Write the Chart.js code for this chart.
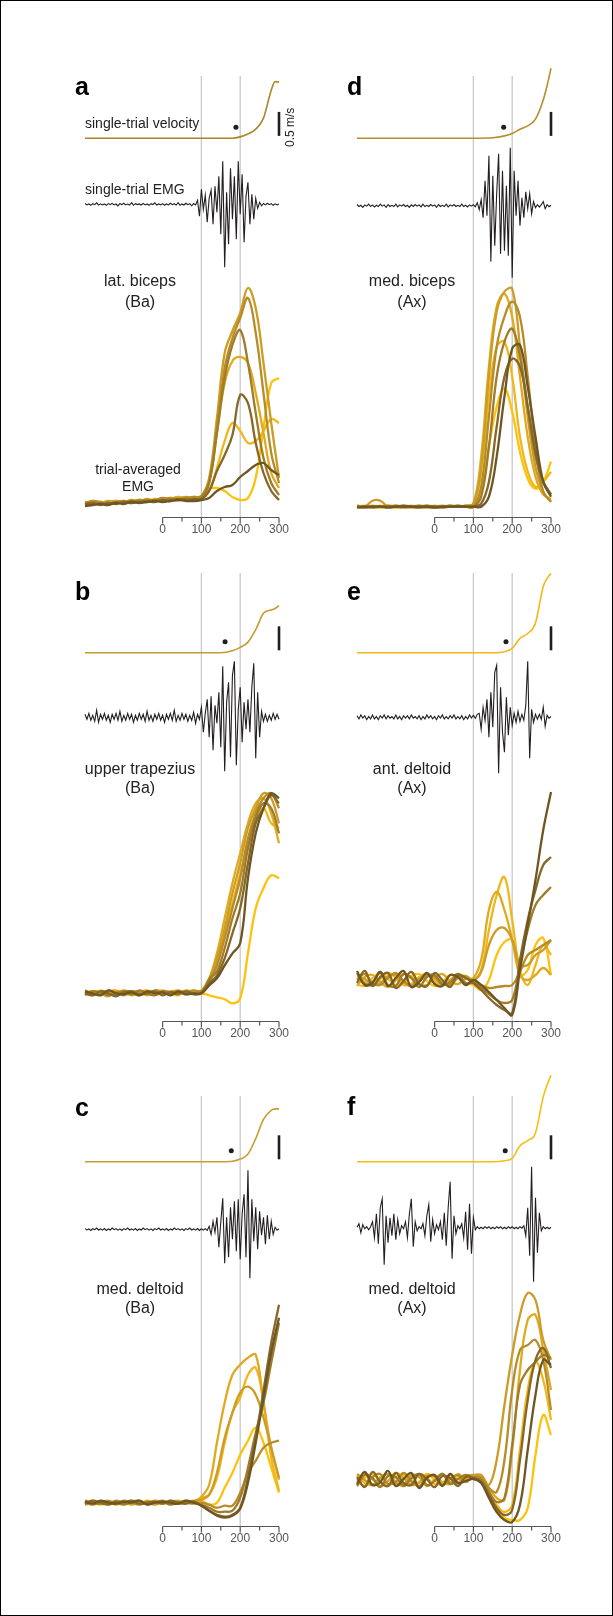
<!DOCTYPE html>
<html>
<head>
<meta charset="utf-8">
<script src="https://cdn.jsdelivr.net/npm/chart.js@4.4.0/dist/chart.umd.min.js"></script>
<style>
  html, body { margin: 0; padding: 0; background: #fff; }
  #fig { position: relative; width: 613px; height: 1616px; overflow: hidden;
         font-family: "Liberation Sans", Arial, Helvetica, sans-serif; color: #222; }
  #frame { position: absolute; left: 0; top: 0; width: 613px; height: 1616px;
           box-sizing: border-box; border: 1px solid #000; }
  #fig canvas { position: absolute; }
  .lbl { position: absolute; white-space: nowrap; line-height: 1; }
</style>
</head>
<body>
<div id="fig"><div id="frame"></div></div>
<script>
// time grids (ms from go cue)
const velTime = [-200, -100, 0, 100, 150, 180, 200, 220, 240, 260, 280, 290, 300];
const avgTime = [-200, -180, -160, -140, -120, -100, -80, -60, -40, -20, 0, 20, 40, 60, 80,
                 100, 120, 140, 160, 180, 200, 220, 240, 260, 280, 300];
const emgTime = [-200, -195, -190, -185, -180, -175, -170, -165, -160, -155,
                 -150, -145, -140, -135, -130, -125, -120, -115, -110, -105,
                 -100, -95, -90, -85, -80, -75, -70, -65, -60, -55,
                 -50, -45, -40, -35, -30, -25, -20, -15, -10, -5,
                 0, 5, 10, 15, 20, 25, 30, 35, 40, 45,
                 50, 55, 60, 65, 70, 75, 80, 85, 90, 95,
                 100, 105, 110, 115, 120, 125, 130, 135, 140, 145,
                 150, 155, 160, 165, 170, 175, 180, 185, 190, 195,
                 200, 205, 210, 215, 220, 225, 230, 235, 240, 245,
                 250, 255, 260, 265, 270, 275, 280, 285, 290, 295,
                 300];
const axisTicks = [0, 50, 100, 150, 200, 250, 300];
const axisLabels = [0, 100, 200, 300];
const markTimes = [100, 200];

// single-trial hand velocity (m/s)
const velA = [0, 0, 0, 0, 0, 0, 0.03, 0.09, 0.19, 0.42, 1.0, 1.18, 1.17];
const velB = [0, 0, 0, 0, 0, 0.04, 0.11, 0.22, 0.48, 0.82, 0.89, 0.92, 0.98];
const velC = [0, 0, 0, 0, 0, 0.01, 0.055, 0.16, 0.48, 0.88, 1.07, 1.1, 1.1];
const velD = [0, 0, 0, 0, 0.01, 0.05, 0.1, 0.19, 0.26, 0.4, 0.8, 1.1, 1.46];
const velE = [0, 0, 0, 0, 0, 0.02, 0.09, 0.3, 0.4, 0.62, 1.38, 1.55, 1.65];
const velF = [0, 0, 0, 0, 0, 0.02, 0.07, 0.33, 0.44, 0.6, 1.35, 1.6, 1.8];
const dotTimes = [189, 161, 177, 178, 184, 182];   // a b c d e f
const dotSpeed = 0.23;
const scaleBar = [0.05, 0.55];                      // 0.5 m/s

// single-trial EMG (arbitrary units)
const emgA = [0.8,-0.6,0.4,-1,0.6,-0.4,1.5,-0.8,0.5,-0.6,
  0.4,-1,0.7,-0.3,0.9,-0.6,0.3,-1.6,0.8,-0.4,
  1,-0.6,0.3,-0.7,1.6,-1,0.6,-0.3,0.4,-0.7,
  0.9,-0.6,0.3,-1,0.6,-0.3,1.5,-0.7,0.4,-0.6,
  0.7,-1,0.4,-0.6,1,-0.4,0.6,-0.8,1.6,-1,
  0.4,-0.7,1,-0.4,0.6,-1.5,0.7,-0.6,4,-12,
  15,-5,9,-18,6,14,-20,18,-8,28,
  -30,43,-63,12,-40,36,-15,28,-35,43,
  -10,30,-38,8,22,-20,10,-15,6,-4,
  2,-1.5,0.8,-0.6,1,-0.4,0.7,-1,0.5,-0.6,
  0.4];
const emgB = [3,-2,4,-3,2,-4,7,-5,3,-2,
  4,-3,2,-5,3,-2,4,-3,6,-4,
  2,-3,4,-2,3,-5,2,-3,4,-2,
  3,-4,6,-3,2,-4,3,-2,4,-3,
  2,-5,3,-2,4,-3,7,-4,2,-3,
  4,-2,3,-4,2,-3,5,-6,3,-2,
  10,-15,4,18,-20,21,-33,12,-6,25,
  -30,51,-54,15,35,-40,42,56,-48,8,
  30,-25,15,-12,18,-15,30,54,-41,25,
  -20,6,-4,3,-4,2,-3,4,-2,3,
  -2];
const emgC = [0.7,-0.6,0.4,-1.2,0.6,-0.4,1.2,-0.7,0.4,-0.8,
  0.7,-1.2,0.4,-0.7,1.2,-0.4,0.7,-0.8,0.4,-1.2,
  0.7,-0.4,1.2,-0.7,0.4,-0.8,0.7,-1.2,0.4,-0.7,
  1.2,-0.4,0.7,-0.8,0.4,-1.2,0.7,-0.4,1.2,-0.7,
  0.4,-0.8,0.7,-1.2,0.4,-0.7,1.2,-0.4,0.7,-0.8,
  0.4,-1.2,0.7,-0.4,1.2,-0.7,0.4,-0.8,0.7,-1.2,
  0.5,-0.8,0.6,-1,3,-5,8,-3,12,-18,
  7,31,-34,12,-28,22,-10,28,-22,30,
  -30,15,35,-28,59,-49,30,-12,22,-20,
  18,-6,12,-15,14,-10,8,-5,2,-1,
  0.5];
const emgD = [1.2,-0.8,0.4,-1.6,0.8,-0.4,1.6,-0.8,0.8,-1.2,
  0.4,-0.8,1.6,-0.4,0.8,-1.6,1.2,-0.8,0.4,-0.8,
  1.6,-1.2,0.8,-0.4,1.2,-0.8,0.4,-1.6,0.8,-0.8,
  1.2,-0.4,0.8,-1.2,1.6,-0.8,0.4,-0.8,1.2,-0.4,
  0.8,-1.6,1.2,-0.8,0.4,-0.8,1.6,-1.2,0.8,-0.4,
  1.2,-0.8,0.4,-0.8,1.6,-0.8,0.4,-1.2,0.8,-0.4,
  1,-1,3,-4,6,-12,25,-10,50,-56,
  30,-40,12,52,-48,35,-45,20,-50,58,
  -72,35,-10,25,-20,8,-12,14,-3,12,
  -8,4,-2,1,-1.5,1,4,-3,1,-1,
  0.5];
const emgE = [1.6,-1.6,2.4,-0.8,1.6,-2.4,0.8,-1.6,2.4,-1.6,
  0.8,-2.4,1.6,-0.8,2.4,-1.6,1.6,-0.8,0.8,-1.6,
  2.4,-1.6,0.8,-2.4,1.6,-0.8,1.6,-1.6,2.4,-0.8,
  0.8,-1.6,1.6,-2.4,0.8,-1.6,2.4,-0.8,1.6,-1.6,
  0.8,-2.4,1.6,-0.8,2.4,-1.6,0.8,-1.6,1.6,-0.8,
  2.4,-1.6,0.8,-1.6,1.6,-2.4,0.8,-1.6,2.4,-0.8,
  2,-1,3,4,-12,10,-3,18,-20,25,
  -10,45,52,-56,30,-15,-35,20,-18,10,
  -8,4,-5,6,-4,3,-3,12,56,-41,
  8,-5,3,-2,3,-2,10,-9,2,-1,
  1];
const emgF = [0.5,4,-5,3,-1,1,-2,1,6,-10,
  14,-16,20,29,-37,12,-15,10,-8,14,
  -12,8,-6,2,-1,6,-10,14,29,-19,
  6,-3,1,-1,4,-8,12,23,-14,8,
  -6,3,-2,6,-12,15,-18,20,46,-31,
  12,-6,2,-1,4,-10,16,-22,24,-26,
  10,-2,1,-1,0.5,-1,1,-0.5,1,-1,
  0.5,-1,1,-0.5,1,-1,0.5,-1,1,-0.5,
  1,-1,0.5,-1,1,-0.5,2,-8,20,-28,
  61,-54,30,-25,15,-3,1,-1,0.5,-1,
  0.5];

// trial-averaged EMG, one curve per condition (arbitrary units)
const avgA = [
  [-2,0,-1,1,0,2,1,3,2,4,3,5,4,3,5, 5,14,15,12,6,3,5,25,75,120,125],
  [0,-1,1,0,2,1,0,2,3,2,4,3,5,4,6, 6,12,35,62,80,72,60,62,72,84,80],
  [1,0,-1,1,2,0,1,3,1,3,2,4,6,5,4, 6,20,70,120,142,146,140,110,70,30,15],
  [-1,1,0,2,0,1,3,2,4,2,3,5,4,6,5, 7,25,85,150,172,190,215,195,140,80,25],
  [0,2,1,-1,1,2,1,3,2,3,5,4,3,5,6, 7,22,75,135,165,185,205,170,110,50,20],
  [-2,-1,0,-1,1,0,2,1,2,3,2,4,3,4,3, 5,20,70,125,158,173,140,90,45,20,8],
  [-1,0,-2,0,-1,1,0,1,2,1,3,2,4,3,4, 4,12,32,48,68,108,100,60,30,12,3],
  [-3,-2,-1,-2,0,-1,1,0,1,2,1,2,3,2,2, 3,5,12,16,18,26,32,38,40,33,28]
];
const avgB = [
  [2,-1,3,0,-2,2,-1,1,3,-1,2,0,-2,2,0, 0,-2,-4,-6,-10,-5,40,85,105,118,115],
  [0,2,-2,1,3,-1,0,2,-2,1,3,0,-1,3,1, 2,12,30,60,90,120,150,175,185,170,165],
  [-2,1,0,-3,2,1,-2,0,2,-1,0,2,1,-1,2, 3,15,40,75,110,140,170,190,195,180,150],
  [1,-2,2,1,-1,3,0,-2,1,2,-1,1,3,0,1, 2,14,35,65,100,130,165,185,200,195,170],
  [3,0,-1,2,1,-2,2,1,-1,3,1,-1,2,1,3, 2,12,28,55,85,115,155,180,195,200,185],
  [-1,2,1,-2,0,2,-1,3,0,-2,2,1,-1,2,0, 1,14,22,45,75,100,145,175,190,185,160],
  [0,-2,2,0,-3,1,2,-1,0,2,-2,1,0,2,-1, 0,10,18,35,60,85,130,170,185,198,190],
  [2,0,-2,3,0,-1,1,-2,2,0,1,-2,2,-1,0, 0,8,15,28,40,50,115,160,185,200,195]
];
const avgC = [
  [-1,1,-2,0,1,-1,2,0,-1,1,0,2,-1,1,0, 2,-2,0,15,30,48,62,75,60,35,10],
  [0,2,-1,1,-2,0,1,-1,2,0,-1,1,2,0,1, 5,8,25,60,90,105,128,135,100,45,12],
  [1,-1,0,2,-1,1,-2,1,0,2,1,-1,0,2,1, 6,18,60,100,128,138,145,148,100,55,23],
  [-2,0,1,-1,2,0,-1,1,0,-2,1,0,-1,1,2, 3,8,30,65,90,110,116,108,85,55,25],
  [0,-2,1,1,-1,2,0,-2,1,0,2,-1,1,0,-1, 0,-2,-5,-3,-3,10,30,42,55,60,62],
  [2,0,-1,1,0,-2,1,2,-1,0,1,-2,0,1,0, -2,-5,-9,-9,-8,5,35,70,100,140,180],
  [-1,2,0,-2,1,0,2,-1,0,1,-1,2,0,-1,1, -3,-8,-12,-14,-12,-5,25,65,112,160,198],
  [1,-1,2,0,-1,1,0,2,-2,0,1,0,-1,2,0, -3,-8,-13,-15,-13,-6,20,60,105,150,185]
];
const avgD = [
  [0,1,0,-1,0,1,0,0,1,0,-1,0,1,0,0, 0,15,60,100,118,95,55,28,18,25,45],
  [1,0,0,1,0,-1,0,1,0,0,1,0,0,1,0, 2,35,110,160,165,130,70,35,20,25,35],
  [0,0,1,0,1,0,0,-1,0,1,0,0,1,0,1, 3,50,140,200,213,190,130,70,30,12,8],
  [0,0,6,6,0,0,1,0,0,-1,0,1,0,0,1, 3,40,130,195,215,218,160,90,40,15,5],
  [1,0,0,0,1,0,-1,0,1,0,0,0,1,0,0, 0,20,90,160,190,205,190,130,60,15,5],
  [0,0,-1,0,0,1,0,0,0,1,0,-1,0,0,0, 0,10,60,130,165,178,150,100,50,25,12],
  [0,-1,0,0,0,0,1,0,-1,0,0,0,0,1,0, 0,3,25,80,130,148,140,100,55,25,12],
  [-1,0,0,0,-1,0,0,0,0,0,-1,0,0,0,0, 0,0,10,50,110,158,162,120,70,25,10]
];
const avgE = [
  [-4,-6,2,6,1,-5,-3,4,6,-1,-6,-2,5,3,-3, -5,-10,0,25,38,40,5,10,35,42,5],
  [3,-2,-6,1,7,2,-5,-4,3,6,-1,-5,0,6,2, 0,10,50,85,103,60,10,-5,15,35,25],
  [-6,3,5,-2,-7,0,6,3,-4,-5,2,6,-1,-4,1, 2,20,70,88,70,40,5,0,5,12,5],
  [5,1,-4,-3,4,5,-2,-6,1,5,2,-4,-3,3,4, 0,8,35,50,52,40,15,15,25,30,40],
  [0,6,-3,-5,2,7,-1,-6,-2,5,4,-3,-5,2,3, -2,-5,-8,-7,-6,-5,8,25,30,35,40],
  [7,-4,-2,8,-5,-6,6,2,-7,3,5,-5,-2,6,-3, -3,-8,-14,-20,-23,-20,15,50,75,85,93],
  [-3,9,-6,3,7,-8,-1,8,-4,-6,7,0,-7,5,2, -3,-10,-18,-25,-30,-33,20,60,90,115,123],
  [9,-5,-3,8,-6,2,9,-7,-2,7,-4,-6,5,3,-5, 0,-5,-12,-20,-28,-35,10,55,100,150,188]
];
const avgF = [
  [-5,2,6,-1,-6,3,5,-3,-2,6,0,-5,2,4,-1, 2,0,-15,-30,-38,-40,-40,-28,25,65,45],
  [4,-3,-5,3,6,-2,-6,1,6,2,-4,-3,5,1,2, 3,2,-12,-25,-32,-25,30,90,118,100,60],
  [-2,6,1,-6,-1,7,2,-5,-3,5,3,-2,-4,6,0, 4,3,-8,-18,-20,30,110,160,165,130,90],
  [6,0,-5,2,6,-3,-4,5,3,-6,0,6,-2,-3,4, 5,5,-5,20,75,125,165,187,180,140,120],
  [1,-6,3,6,-4,-2,7,-1,-6,3,4,-5,1,5,-2, 3,2,-8,-12,20,90,130,135,140,120,70],
  [-6,5,2,-7,4,3,-6,2,6,-5,-1,6,-4,1,5, 2,0,-12,-22,-18,35,95,110,118,125,122],
  [3,-7,8,-2,-6,7,-3,-5,6,1,-7,4,2,-6,3, 2,-2,-15,-28,-35,-30,20,80,120,132,112],
  [-4,8,-5,-2,9,-6,1,7,-8,2,5,-6,6,-3,-1, 1,-3,-18,-32,-40,-42,-25,30,85,120,115]
];
const avgColors = ['#fdc20c', '#f0b61a', '#dfa920', '#cc9c24', '#b78c27', '#a07b28', '#866727', '#6e5624'];

// panel layout (page pixels)
const plotW = 194;
const panels = [
  { letter: 'a', x0: 85,  top: 76,   bottom: 517,  velBase: 138.3,  emgBase: 204.3,  avgBase: 503,
    velColor: '#a88628', vel: velA, emg: emgA, avg: avgA, dot: dotTimes[0],
    name: ['lat. biceps', '(Ba)'], nameY: [286.7, 307.3], letterY: 95 },
  { letter: 'b', x0: 85,  top: 573,  bottom: 1021, velBase: 652.7,  emgBase: 717.3,  avgBase: 993.3,
    velColor: '#c49b2e', vel: velB, emg: emgB, avg: avgB, dot: dotTimes[1],
    name: ['upper trapezius', '(Ba)'], nameY: [774.3, 793.3], letterY: 600 },
  { letter: 'c', x0: 85,  top: 1096, bottom: 1526, velBase: 1161.7, emgBase: 1229.3, avgBase: 1502.7,
    velColor: '#c69d30', vel: velC, emg: emgC, avg: avgC, dot: dotTimes[2],
    name: ['med. deltoid', '(Ba)'], nameY: [1295, 1314], letterY: 1116 },
  { letter: 'd', x0: 357, top: 76,   bottom: 517,  velBase: 138.3,  emgBase: 205.7,  avgBase: 506.7,
    velColor: '#b48f2b', vel: velD, emg: emgD, avg: avgD, dot: dotTimes[3],
    name: ['med. biceps', '(Ax)'], nameY: [286.7, 307.3], letterY: 95 },
  { letter: 'e', x0: 357, top: 573,  bottom: 1021, velBase: 652.7,  emgBase: 717.3,  avgBase: 980,
    velColor: '#f1b81a', vel: velE, emg: emgE, avg: avgE, dot: dotTimes[4],
    name: ['ant. deltoid', '(Ax)'], nameY: [774.3, 793.3], letterY: 600 },
  { letter: 'f', x0: 357, top: 1096, bottom: 1526, velBase: 1161.7, emgBase: 1227.7, avgBase: 1480,
    velColor: '#f6be12', vel: velF, emg: emgF, avg: avgF, dot: dotTimes[5],
    name: ['med. deltoid', '(Ax)'], nameY: [1295, 1314], letterY: 1115 }
];

const fig = document.getElementById('fig');
const FONT = '"Liberation Sans", Arial, Helvetica, sans-serif';

// text placed by its baseline
function label(text, x, baseline, size, opts = {}) {
  const d = document.createElement('div');
  d.className = 'lbl';
  d.textContent = text;
  d.style.fontSize = size + 'px';
  d.style.top = (baseline - 0.8465 * size) + 'px';
  d.style.left = x + 'px';
  if (opts.center) d.style.transform = 'translateX(-50%)';
  if (opts.bold) d.style.fontWeight = 'bold';
  if (opts.color) d.style.color = opts.color;
  fig.appendChild(d);
  return d;
}

// gray guide lines at 100/200 ms and the 0-300 ms time axis
const timeAxis = {
  id: 'timeAxis',
  beforeDatasetsDraw(chart) {
    const { ctx, chartArea, scales: { x } } = chart;
    ctx.save();
    ctx.strokeStyle = '#c8c8c8';
    ctx.lineWidth = 1.3;
    markTimes.forEach(t => {
      const px = x.getPixelForValue(t);
      ctx.beginPath();
      ctx.moveTo(px, chartArea.top);
      ctx.lineTo(px, chartArea.bottom);
      ctx.stroke();
    });
    ctx.restore();
  },
  afterDatasetsDraw(chart) {
    const { ctx, chartArea, scales: { x } } = chart;
    const y = chartArea.bottom + 0.5;
    ctx.save();
    ctx.strokeStyle = '#555';
    ctx.lineWidth = 1.2;
    ctx.beginPath();
    ctx.moveTo(x.getPixelForValue(axisTicks[0]), y);
    ctx.lineTo(x.getPixelForValue(axisTicks[axisTicks.length - 1]), y);
    axisTicks.forEach(t => {
      const px = x.getPixelForValue(t);
      ctx.moveTo(px, y);
      ctx.lineTo(px, y + (axisLabels.includes(t) ? 6 : 4));
    });
    ctx.stroke();
    ctx.fillStyle = '#555';
    ctx.font = '12px ' + FONT;
    ctx.textAlign = 'center';
    ctx.textBaseline = 'middle';
    axisLabels.forEach(t => ctx.fillText(String(t), x.getPixelForValue(t), y + 12));
    ctx.restore();
  }
};

function makePanel(p) {
  const pad = { left: 25, right: 35, top: 25, bottom: 25 };
  const canvas = document.createElement('canvas');
  canvas.width = pad.left + plotW + pad.right;
  canvas.height = pad.top + (p.bottom - p.top) + pad.bottom;
  canvas.style.left = (p.x0 - pad.left) + 'px';
  canvas.style.top = (p.top - pad.top) + 'px';
  fig.appendChild(canvas);

  // y range that puts value 0 at page row `base`, k px per unit
  const band = (base, k) => ({ min: -(p.bottom - base) / k, max: (base - p.top) / k });
  const hidden = { type: 'linear', display: false };

  const datasets = [];
  p.avg.forEach((curve, k) => {
    datasets.push({
      data: avgTime.map((t, i) => ({ x: t, y: curve[i] })),
      yAxisID: 'yAvg', borderColor: avgColors[k], borderWidth: 2.3,
      tension: 0.4, pointRadius: 0, clip: false, order: 10 - k
    });
  });
  datasets.push({
    data: emgTime.map((t, i) => ({ x: t, y: p.emg[i] })),
    yAxisID: 'yEmg', borderColor: '#231f20', borderWidth: 1.1,
    tension: 0, pointRadius: 0, clip: false, order: 1
  });
  datasets.push({
    data: velTime.map((t, i) => ({ x: t, y: p.vel[i] })),
    yAxisID: 'yVel', borderColor: p.velColor, borderWidth: 1.6,
    cubicInterpolationMode: 'monotone', pointRadius: 0, clip: false, order: 1
  });
  datasets.push({
    data: [{ x: p.dot, y: dotSpeed }],
    yAxisID: 'yVel', showLine: false, pointRadius: 2.5, borderWidth: 0,
    pointBackgroundColor: '#1e1e1e', clip: false, order: 0
  });
  datasets.push({
    data: scaleBar.map(v => ({ x: axisTicks[axisTicks.length - 1], y: v })),
    yAxisID: 'yVel', borderColor: '#1e1e1e', borderWidth: 2.6,
    pointRadius: 0, clip: false, order: 0
  });

  new Chart(canvas, {
    type: 'line',
    data: { datasets },
    options: {
      responsive: false,
      animation: false,
      devicePixelRatio: 1,
      layout: { padding: pad },
      plugins: { legend: { display: false }, tooltip: { enabled: false } },
      events: [],
      scales: {
        x: { ...hidden, min: -200, max: 300 },
        yVel: { ...hidden, ...band(p.velBase, 48) },
        yEmg: { ...hidden, ...band(p.emgBase, 1) },
        yAvg: { ...hidden, ...band(p.avgBase, 1) }
      }
    },
    plugins: [timeAxis]
  });

  // labels
  const cx = p.x0 + 55;
  label(p.letter, p.x0 - 10, p.letterY, 25, { bold: true, color: '#000' });
  label(p.name[0], cx, p.nameY[0], 16, { center: true });
  label(p.name[1], cx, p.nameY[1], 16, { center: true });
}

panels.forEach(makePanel);

// annotations that appear only in panel a
label('single-trial velocity', 85, 128.3, 14);
label('single-trial EMG', 85, 194, 14);
label('trial-averaged', 138, 474, 14, { center: true });
label('EMG', 138, 490.7, 14, { center: true });
const unit = label('0.5 m/s', 289, 131, 12);
unit.style.transformOrigin = '0 0';
unit.style.left = '284px';
unit.style.top = '147px';
unit.style.transform = 'rotate(-90deg)';
</script>
</body>
</html>
